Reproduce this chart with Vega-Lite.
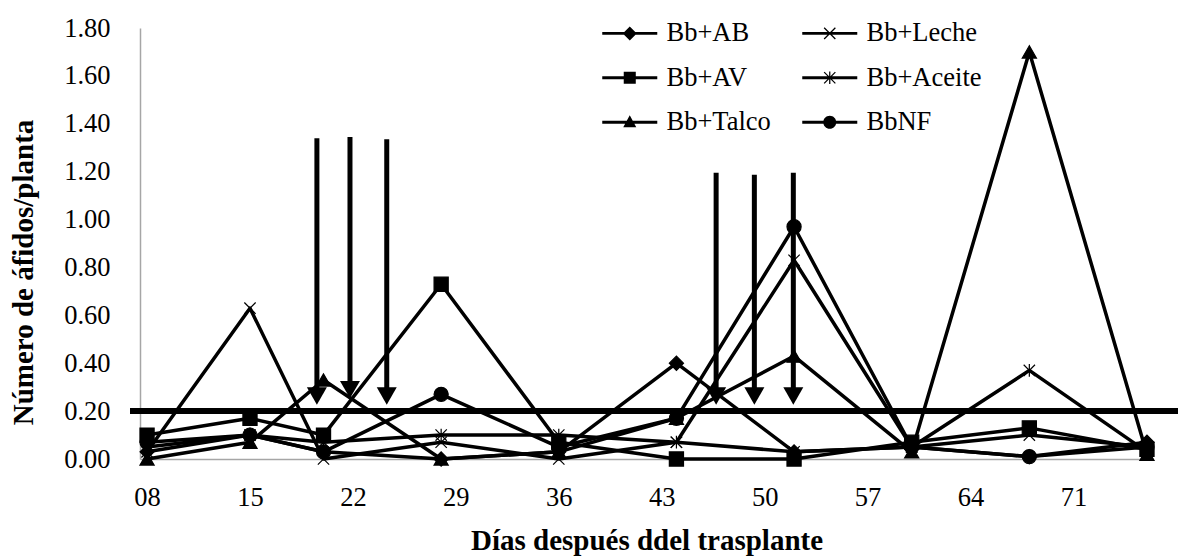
{
  "$schema": "https://vega.github.io/schema/vega-lite/v6.json",
  "width": 1013,
  "height": 431,
  "autosize": {"type": "none"},
  "padding": {"left": 140, "top": 28, "right": 25, "bottom": 97},
  "background": "white",
  "config": {"view": {"stroke": null}, "font": "Liberation Serif"},
  "datasets": {
    "series": [
      {"day": 8, "serie": "Bb+AB", "value": 0.03}, {"day": 15, "serie": "Bb+AB", "value": 0.10}, {"day": 20, "serie": "Bb+AB", "value": 0.03}, {"day": 28, "serie": "Bb+AB", "value": 0.00}, {"day": 36, "serie": "Bb+AB", "value": 0.03}, {"day": 44, "serie": "Bb+AB", "value": 0.40}, {"day": 52, "serie": "Bb+AB", "value": 0.03}, {"day": 60, "serie": "Bb+AB", "value": 0.05}, {"day": 68, "serie": "Bb+AB", "value": 0.01}, {"day": 76, "serie": "Bb+AB", "value": 0.07},
      {"day": 8, "serie": "Bb+AV", "value": 0.10}, {"day": 15, "serie": "Bb+AV", "value": 0.17}, {"day": 20, "serie": "Bb+AV", "value": 0.10}, {"day": 28, "serie": "Bb+AV", "value": 0.73}, {"day": 36, "serie": "Bb+AV", "value": 0.07}, {"day": 44, "serie": "Bb+AV", "value": 0.00}, {"day": 52, "serie": "Bb+AV", "value": 0.00}, {"day": 60, "serie": "Bb+AV", "value": 0.07}, {"day": 68, "serie": "Bb+AV", "value": 0.13}, {"day": 76, "serie": "Bb+AV", "value": 0.04},
      {"day": 8, "serie": "Bb+Talco", "value": 0.00}, {"day": 15, "serie": "Bb+Talco", "value": 0.07}, {"day": 20, "serie": "Bb+Talco", "value": 0.33}, {"day": 28, "serie": "Bb+Talco", "value": 0.00}, {"day": 36, "serie": "Bb+Talco", "value": 0.03}, {"day": 44, "serie": "Bb+Talco", "value": 0.17}, {"day": 52, "serie": "Bb+Talco", "value": 0.43}, {"day": 60, "serie": "Bb+Talco", "value": 0.03}, {"day": 68, "serie": "Bb+Talco", "value": 1.70}, {"day": 76, "serie": "Bb+Talco", "value": 0.02},
      {"day": 8, "serie": "Bb+Leche", "value": 0.03}, {"day": 15, "serie": "Bb+Leche", "value": 0.63}, {"day": 20, "serie": "Bb+Leche", "value": 0.00}, {"day": 28, "serie": "Bb+Leche", "value": 0.07}, {"day": 36, "serie": "Bb+Leche", "value": 0.00}, {"day": 44, "serie": "Bb+Leche", "value": 0.07}, {"day": 52, "serie": "Bb+Leche", "value": 0.83}, {"day": 60, "serie": "Bb+Leche", "value": 0.05}, {"day": 68, "serie": "Bb+Leche", "value": 0.10}, {"day": 76, "serie": "Bb+Leche", "value": 0.05},
      {"day": 8, "serie": "Bb+Aceite", "value": 0.05}, {"day": 15, "serie": "Bb+Aceite", "value": 0.10}, {"day": 20, "serie": "Bb+Aceite", "value": 0.07}, {"day": 28, "serie": "Bb+Aceite", "value": 0.10}, {"day": 36, "serie": "Bb+Aceite", "value": 0.10}, {"day": 44, "serie": "Bb+Aceite", "value": 0.07}, {"day": 52, "serie": "Bb+Aceite", "value": 0.03}, {"day": 60, "serie": "Bb+Aceite", "value": 0.05}, {"day": 68, "serie": "Bb+Aceite", "value": 0.37}, {"day": 76, "serie": "Bb+Aceite", "value": 0.03},
      {"day": 8, "serie": "BbNF", "value": 0.07}, {"day": 15, "serie": "BbNF", "value": 0.10}, {"day": 20, "serie": "BbNF", "value": 0.03}, {"day": 28, "serie": "BbNF", "value": 0.27}, {"day": 36, "serie": "BbNF", "value": 0.05}, {"day": 44, "serie": "BbNF", "value": 0.17}, {"day": 52, "serie": "BbNF", "value": 0.97}, {"day": 60, "serie": "BbNF", "value": 0.05}, {"day": 68, "serie": "BbNF", "value": 0.01}, {"day": 76, "serie": "BbNF", "value": 0.05}
    ],
    "threshold": [{"xa": 6.84, "xb": 78.5, "y": 0.2}],
    "arrows": [
      {"day": 19.55, "top": 1.34, "head": 0.263},
      {"day": 21.8, "top": 1.345, "head": 0.29},
      {"day": 24.3, "top": 1.335, "head": 0.263},
      {"day": 46.7, "top": 1.195, "head": 0.263},
      {"day": 49.3, "top": 1.187, "head": 0.263},
      {"day": 51.95, "top": 1.195, "head": 0.263}
    ]
  },
  "resolve": {"scale": {"shape": "independent"}},
  "layer": [
    {
      "data": {"name": "series"},
      "mark": {"type": "line", "color": "black", "strokeWidth": 3.5, "strokeJoin": "round"},
      "encoding": {
        "x": {
          "field": "day", "type": "quantitative",
          "scale": {"domain": [7.52, 76.41], "nice": false, "zero": false},
          "axis": {
            "title": "Días después ddel trasplante",
            "values": [8, 15, 22, 29, 36, 43, 50, 57, 64, 71],
            "format": "02d", "grid": false, "ticks": false, "tickSize": 0,
            "domainColor": "#a6a6a6", "domainWidth": 1.5,
            "labelFont": "Liberation Serif", "labelFontSize": 26.5, "labelColor": "black",
            "labelPadding": 25, "labelFlush": false, "labelOverlap": false,
            "titleFont": "Liberation Serif", "titleFontSize": 29, "titleFontWeight": "bold",
            "titleColor": "black", "titleY": 81, "titleBaseline": "middle"
          }
        },
        "y": {
          "field": "value", "type": "quantitative",
          "scale": {"domain": [0, 1.8], "nice": false},
          "axis": {
            "title": "Número de áfidos/planta",
            "values": [0, 0.2, 0.4, 0.6, 0.8, 1, 1.2, 1.4, 1.6, 1.8],
            "format": ".2f", "grid": false, "ticks": false, "tickSize": 0,
            "domainColor": "#a6a6a6", "domainWidth": 1.5,
            "labelFont": "Liberation Serif", "labelFontSize": 26.5, "labelColor": "black",
            "labelPadding": 30, "labelFlush": false, "labelOverlap": false,
            "titleFont": "Liberation Serif", "titleFontSize": 29, "titleFontWeight": "bold",
            "titleColor": "black", "titleX": -117, "titleY": 244, "titleAlign": "center",
            "titleBaseline": "middle", "titleAngle": 270
          }
        },
        "detail": {"field": "serie"},
        "order": {"field": "day", "type": "quantitative"}
      }
    },
    {
      "data": {"name": "series"},
      "mark": {"type": "point", "filled": true, "color": "black", "stroke": "black", "strokeWidth": 1.2, "size": 200, "opacity": 1},
      "encoding": {
        "x": {"field": "day", "type": "quantitative"},
        "y": {"field": "value", "type": "quantitative"},
        "shape": {
          "field": "serie", "type": "nominal",
          "scale": {
            "domain": ["Bb+AB", "Bb+AV", "Bb+Talco", "Bb+Leche", "Bb+Aceite", "BbNF"],
            "range": ["diamond", "square", "triangle-up", "M-0.8,-0.8L0.8,0.8M0.8,-0.8L-0.8,0.8", "M-0.8,-0.8L0.8,0.8M0.8,-0.8L-0.8,0.8M0,-0.9L0,0.9", "circle"]
          },
          "legend": null
        }
      }
    },
    {
      "data": {"values": []},
      "mark": {"type": "point", "filled": true, "color": "black", "stroke": "black", "strokeWidth": 1, "opacity": 1},
      "encoding": {
        "x": {"field": "day", "type": "quantitative"},
        "y": {"field": "value", "type": "quantitative"},
        "shape": {
          "field": "serie", "type": "nominal",
          "scale": {
            "domain": ["Bb+AB", "Bb+AV", "Bb+Talco", "Bb+Leche", "Bb+Aceite", "BbNF"],
            "range": [
              "M-1,-0.21L6.86,-0.21L6.86,0.21L-1,0.21ZM2.93,-1L3.93,0L2.93,1L1.93,0Z",
              "M-1,-0.21L6.86,-0.21L6.86,0.21L-1,0.21ZM2.07,-0.86L3.79,-0.86L3.79,0.86L2.07,0.86Z",
              "M-1,-0.21L6.86,-0.21L6.86,0.21L-1,0.21ZM2.93,-1L3.86,0.71L2,0.71Z",
              "M-1,-0.21L6.86,-0.21L6.86,0.21L-1,0.21ZM2.194,-0.864L3.794,0.736L3.666,0.864L2.066,-0.736ZM3.666,-0.864L3.794,-0.736L2.194,0.864L2.066,0.736Z",
              "M-1,-0.21L6.86,-0.21L6.86,0.21L-1,0.21ZM2.194,-0.864L3.794,0.736L3.666,0.864L2.066,-0.736ZM3.666,-0.864L3.794,-0.736L2.194,0.864L2.066,0.736ZM2.84,-0.9L3.02,-0.9L3.02,0.9L2.84,0.9Z",
              "M-1,-0.21L6.86,-0.21L6.86,0.21L-1,0.21ZM2,0A0.93,0.93 0 1,1 3.86,0A0.93,0.93 0 1,1 2,0Z"
            ]
          },
          "legend": {
            "title": null, "orient": "none", "legendX": 456, "legendY": -8,
            "columns": 2, "columnPadding": 25, "rowPadding": 17.5, "padding": 0,
            "symbolSize": 196, "symbolStrokeWidth": 1, "symbolStrokeColor": "black",
            "symbolFillColor": "black", "symbolOpacity": 1,
            "labelFont": "Liberation Serif", "labelFontSize": 26.5, "labelColor": "black",
            "labelOffset": 44, "labelLimit": 300
          }
        }
      }
    },
    {
      "data": {"name": "threshold"},
      "mark": {"type": "rule", "color": "black", "strokeWidth": 6, "clip": false},
      "encoding": {
        "x": {"field": "xa", "type": "quantitative"},
        "x2": {"field": "xb"},
        "y": {"field": "y", "type": "quantitative"}
      }
    },
    {
      "data": {"name": "arrows"},
      "mark": {"type": "rule", "color": "black", "strokeWidth": 5},
      "encoding": {
        "x": {"field": "day", "type": "quantitative"},
        "y": {"field": "top", "type": "quantitative"},
        "y2": {"field": "head"}
      }
    },
    {
      "data": {"name": "arrows"},
      "mark": {"type": "point", "shape": "triangle-down", "filled": true, "color": "black", "size": 400, "opacity": 1},
      "encoding": {
        "x": {"field": "day", "type": "quantitative"},
        "y": {"field": "head", "type": "quantitative"}
      }
    }
  ]
}
